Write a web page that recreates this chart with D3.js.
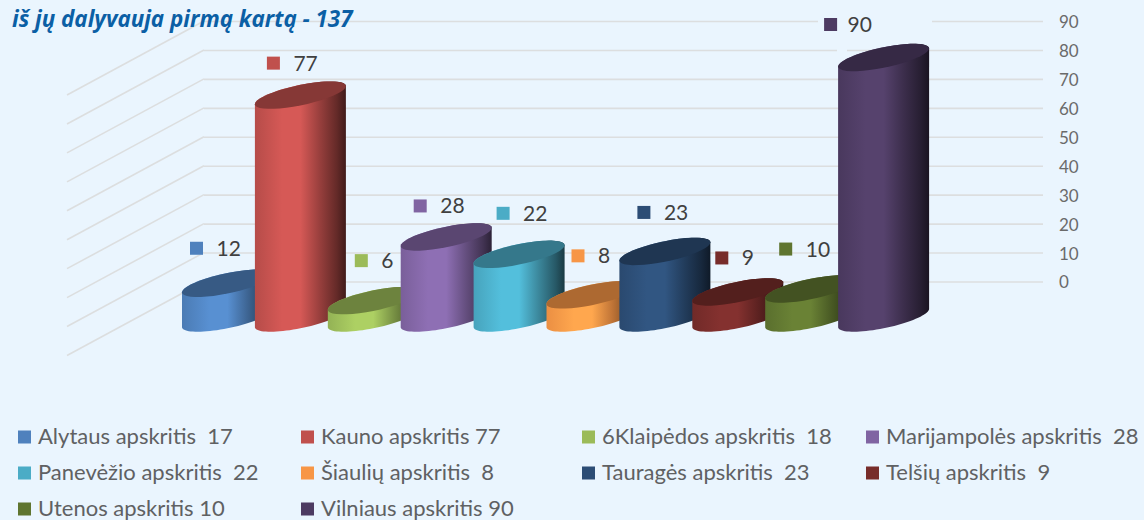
<!DOCTYPE html>
<html>
<head>
<meta charset="utf-8">
<script src="https://cdn.jsdelivr.net/npm/d3@7"></script>
<style>
  html, body { margin: 0; padding: 0; background: #eaf5fe; }
  svg { display: block; }
  .axis path { display: none; }
  .axis line, .side { stroke: #dcdedf; stroke-width: 1.6; }
  .axis text { font: 17px Lato; fill: #6a6a6a; transform: translateY(1px); }
  .val { font: 21px Lato; fill: #404040; }
  .leg { font: 22px Lato; fill: #5f6163; white-space: pre; }
  .title { font: italic 700 22.4px "Open Sans"; fill: #0b5fa5; }
</style>
</head>
<body>
<svg id="chart" width="1144" height="520"></svg>
<script>
const names = ['Alytaus', 'Kauno', 'Klaipėdos', 'Marijampolės', 'Panevėžio', 'Šiaulių', 'Tauragės', 'Telšių', 'Utenos', 'Vilniaus'];
const values = [12, 77, 6, 28, 22, 8, 23, 9, 10, 90];
const colors = ['#4f81bd', '#c0504d', '#9bbb59', '#8064a2', '#4bacc6', '#f79646', '#2c4d75', '#772c2a', '#5f7530', '#4d3b62'];
const legendLabels = ['Alytaus apskritis  17', 'Kauno apskritis 77', '6Klaipėdos apskritis  18', 'Marijampolės apskritis  28',
  'Panevėžio apskritis  22', 'Šiaulių apskritis  8', 'Tauragės apskritis  23', 'Telšių apskritis  9',
  'Utenos apskritis 10', 'Vilniaus apskritis 90'];
const ticks = [0, 10, 20, 30, 40, 50, 60, 70, 80, 90];

// labels were moved by hand in the original, offset from bar centre / top
const labelDx = [-31, -27, -12, -26, -16, -14, -21, -16, -25, -53];
const labelDy = [-35, -32, -40, -31, -41, -39, -39, -34, -40, -33];

const svg = d3.select('#chart');
const y = d3.scaleLinear().domain([0, 90]).range([281.5, 21]);
const x = d3.scaleBand().domain(names).range([182, 911]).paddingInner(0);
const barW = 91;
const baseShift = 36.5, depthDrop = 74;
const wallX = 204, sideX = 67, axisX = 1043;

// side wall
svg.selectAll('.side').data(ticks).enter().append('line')
  .attr('class', 'side')
  .attr('x1', sideX).attr('x2', wallX)
  .attr('y1', d => y(d) + depthDrop).attr('y2', d => y(d));

// back wall + tick labels
svg.append('g').attr('class', 'axis')
  .attr('transform', `translate(${axisX},0)`)
  .call(d3.axisRight(y).tickValues(ticks).tickSize(-(axisX - wallX)).tickPadding(16));

// gaps in the grid around the 90 label
svg.append('rect').attr('x', 818).attr('y', y(90) - 6).attr('width', 114).attr('height', 12).attr('fill', '#eaf5fe');
svg.append('rect').attr('x', 837).attr('y', y(80) - 3).attr('width', 10).attr('height', 6).attr('fill', '#eaf5fe');

const defs = svg.append('defs');
colors.forEach((c, i) => {
  const g = defs.append('linearGradient').attr('id', 'g' + i);
  const dark = k => d3.interpolateRgb(c, '#000')(k);
  const lite = d3.rgb(c).brighter(0.3).formatHex();
  [[0, dark(0.05)], [0.3, lite], [0.5, lite], [0.72, dark(0.22)], [0.9, dark(0.48)], [1, dark(0.66)]]
    .forEach(s => g.append('stop').attr('offset', s[0]).attr('stop-color', s[1]));
});

// tilted ellipse point, t in radians
const shear = 0.2, minor = 10.3;
const pt = (cx, cy, t) => {
  const a = barW / 2 * Math.cos(t);
  return [cx + a, cy - shear * a + minor * Math.sin(t)];
};
const line = d3.line();
const arc = (cx, cy, from, to) => d3.range(0, 41).map(k => pt(cx, cy, from + (to - from) * k / 40));

const bars = svg.selectAll('.bar').data(values).enter().append('g').attr('class', 'bar');
bars.append('path')
  .attr('fill', (d, i) => `url(#g${i})`)
  .attr('d', (d, i) => {
    const cx = x(names[i]) + barW / 2;
    const top = y(d) + baseShift, bottom = y(0) + baseShift;
    return line(arc(cx, bottom, 0, Math.PI).concat(arc(cx, top, Math.PI, 2 * Math.PI))) + 'Z';
  });
bars.append('path')
  .attr('fill', (d, i) => d3.interpolateRgb(colors[i], '#000')(0.3))
  .attr('d', (d, i) => line(arc(x(names[i]) + barW / 2, y(d) + baseShift, 0, 2 * Math.PI)) + 'Z');

// value labels
const labels = svg.selectAll('.lab').data(values).enter().append('g').attr('class', 'lab')
  .attr('transform', (d, i) => `translate(${x(names[i]) + barW / 2 + labelDx[i]},${y(d) + baseShift + labelDy[i]})`);
labels.append('rect').attr('x', -6.5).attr('y', -6.5).attr('width', 13).attr('height', 13).attr('fill', (d, i) => colors[i]);
labels.append('text').attr('class', 'val').attr('x', (d, i) => i === 9 ? 17 : 20).attr('y', 7.5).text(d => d);

// title
svg.append('text').attr('class', 'title').attr('x', 12).attr('y', 27).text('iš jų dalyvauja pirmą kartą - 137');

// legend
const legX = [18, 301, 582, 866], legY = [437, 473, 509];
const leg = svg.selectAll('.legi').data(legendLabels).enter().append('g').attr('class', 'legi')
  .attr('transform', (d, i) => `translate(${legX[i % 4]},${legY[Math.floor(i / 4)]})`);
leg.append('rect').attr('y', -6.5).attr('width', 13).attr('height', 13).attr('fill', (d, i) => colors[i]);
leg.append('text').attr('class', 'leg').attr('x', 20).attr('y', 7).text(d => d);
</script>
</body>
</html>
